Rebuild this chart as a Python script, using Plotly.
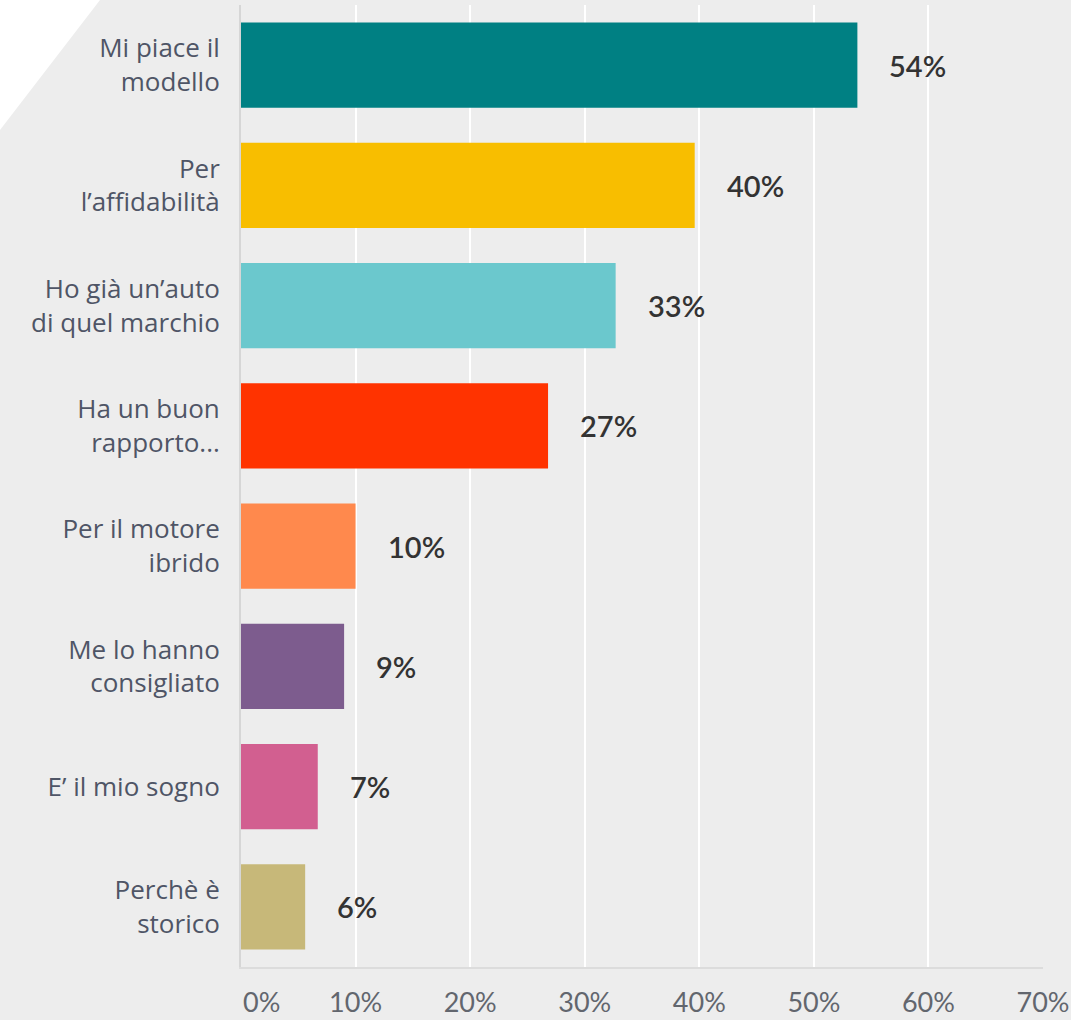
import plotly.graph_objects as go

categorie = ['Mi piace il<br>modello', 'Per<br>l\u2019affidabilità', 'Ho già un\u2019auto<br>di quel marchio',
             'Ha un buon<br>rapporto...', 'Per il motore<br>ibrido', 'Me lo hanno<br>consigliato',
             'E\u2019 il mio sogno', 'Perchè è<br>storico']
valori = [53.8, 39.6, 32.7, 26.8, 10.0, 9.0, 6.7, 5.6]
colori = ['#008083', '#f8be00', '#6bc8cd', '#ff3300', '#ff894d', '#7d5c8e', '#d25f90', '#c7b879']
tick_val = [0, 10, 20, 30, 40, 50, 60, 70]
tick_txt = ['\u00a0\u00a0\u00a0\u00a0\u00a0\u00a00%', '10%', '20%', '30%', '40%', '50%', '60%', '70%']

W, H = 1071, 1020
ml, mr, mt, mb = 241, 28, 5, 53
pw, ph = W - ml - mr, H - mt - mb

def px2paper(x, y):
    return (x - ml) / pw, 1 - (y - mt) / ph

fig = go.Figure()
fig.add_trace(go.Bar(
    x=valori, y=categorie, orientation='h',
    marker=dict(color=colori, line=dict(width=0)),
    hoverinfo='x+y'
))
for v, c in zip(valori, categorie):
    fig.add_annotation(x=v, y=c, text='%d%%' % round(v), showarrow=False,
                       xanchor='left', xshift=30,
                       font=dict(family='Lato', size=29, color='#333333', weight=600))

# triangolo bianco in alto a sinistra
pts = [px2paper(-10, -10), px2paper(107.7, -10), px2paper(-10, 143)]
path = 'M %f,%f L %f,%f L %f,%f Z' % (pts[0] + pts[1] + pts[2])
fig.add_shape(type='path', path=path, xref='paper', yref='paper',
              fillcolor='white', line=dict(width=0), layer='below')

fig.update_yaxes(autorange='reversed', showgrid=False, ticks='', ticklabelstandoff=14,
                 tickfont=dict(family='Open Sans', size=26, color='#4f5566'),
                 showline=True, linecolor='#d6d6d6', linewidth=2, automargin=False)
fig.update_xaxes(range=[0, 70], tickvals=tick_val, ticktext=tick_txt,
                 showgrid=True, gridcolor='white', gridwidth=2, zeroline=False,
                 ticks='', ticklabelstandoff=11,
                 tickfont=dict(family='Lato', size=27, color='#62666e'),
                 showline=True, linecolor='#dcdcdc', linewidth=2, automargin=False)
fig.update_layout(width=W, height=H, bargap=0.29, showlegend=False,
                  plot_bgcolor='#ededed', paper_bgcolor='#ededed',
                  margin=dict(l=ml, r=mr, t=mt, b=mb))

fig.write_html('out.html', config={'displayModeBar': False},
               post_script="document.body.style.margin='0';")
